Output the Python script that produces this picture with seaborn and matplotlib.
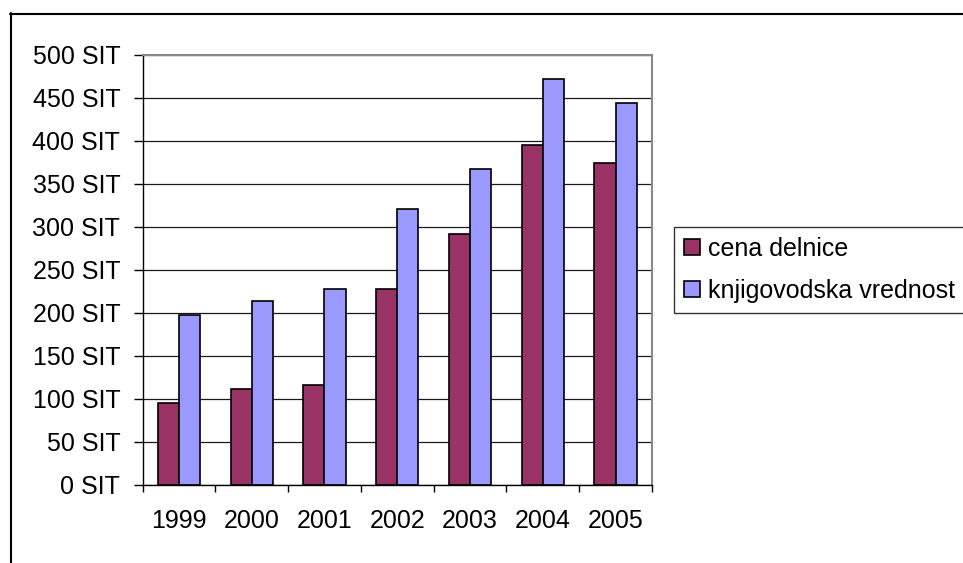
import matplotlib
matplotlib.use('Agg')
import matplotlib.pyplot as plt
import seaborn as sns
import pandas as pd
from matplotlib.lines import Line2D
from matplotlib.ticker import FixedLocator

years = ['1999', '2000', '2001', '2002', '2003', '2004', '2005']
cena_delnice = [95, 111, 116, 228, 291, 395, 374]
knjigovodska_vrednost = [197, 214, 228, 321, 367, 472, 444]
series_names = ['cena delnice', 'knjigovodska vrednost']
series_colors = ['#993366', '#9999FF']
y_ticks = [0, 50, 100, 150, 200, 250, 300, 350, 400, 450, 500]
y_tick_labels = [f'{v} SIT' for v in y_ticks]

sns.set_theme(style='white')
plt.rcParams['font.family'] = ['Liberation Sans', 'DejaVu Sans']

df = pd.DataFrame({
    'leto': years * 2,
    'vrednost': cena_delnice + knjigovodska_vrednost,
    'serija': [series_names[0]] * len(years) + [series_names[1]] * len(years),
})

W, H = 963, 563
fig = plt.figure(figsize=(W / 100, H / 100), dpi=100)
fig.patch.set_facecolor('white')
L, R, T, B = 142.5, 652, 54.5, 485
ax = fig.add_axes([L / W, 1 - B / H, (R - L) / W, (B - T) / H])

sns.barplot(data=df, x='leto', y='vrednost', hue='serija', hue_order=series_names,
            palette=series_colors, width=0.58, edgecolor='black', linewidth=1.2,
            saturation=1, errorbar=None, ax=ax)

ax.set_xlim(-0.5, len(years) - 0.5)
ax.set_ylim(0, 500)
ax.set_xlabel('')
ax.set_ylabel('')
ax.set_yticks(y_ticks)
ax.set_yticklabels(y_tick_labels, fontsize=18, color='black')
ax.set_xticks(range(len(years)))
ax.set_xticklabels(years, fontsize=18, color='black')
ax.xaxis.set_minor_locator(FixedLocator([i - 0.5 for i in range(len(years) + 1)]))
ax.tick_params(axis='x', which='major', bottom=True, length=0, pad=17.5)
ax.tick_params(axis='x', which='minor', bottom=True, length=5, width=1, color='black', direction='out')
ax.tick_params(axis='y', which='major', left=True, length=6.5, width=1, color='black', direction='out', pad=9.5)

ax.yaxis.grid(True, color='#1a1a1a', linewidth=0.9)
ax.xaxis.grid(False)
ax.set_axisbelow(True)
for s in ['left', 'bottom']:
    ax.spines[s].set_color('black')
    ax.spines[s].set_linewidth(1)
for s in ['top', 'right']:
    ax.spines[s].set_color('#888888')
    ax.spines[s].set_linewidth(1.5)

leg = ax.legend(loc='upper left', bbox_to_anchor=(674 / W, 1 - 227 / H),
                bbox_transform=fig.transFigure, frameon=True, fancybox=False,
                edgecolor='black', fontsize=18, handlelength=0.64, handleheight=0.64,
                handletextpad=0.3, borderaxespad=0, borderpad=0.4, labelspacing=0.72,
                title=None)
leg.get_frame().set_linewidth(1)
for t in leg.get_texts():
    t.set_color('black')

# outer chart border (left and top visible)
fig.add_artist(Line2D([10.5 / W, 10.5 / W], [0, 1 - 13 / H], transform=fig.transFigure,
                      color='black', linewidth=1.5))
fig.add_artist(Line2D([10 / W, 1], [1 - 13.5 / H, 1 - 13.5 / H], transform=fig.transFigure,
                      color='black', linewidth=1.5))

fig.savefig('out.png', dpi=100, facecolor='white')
